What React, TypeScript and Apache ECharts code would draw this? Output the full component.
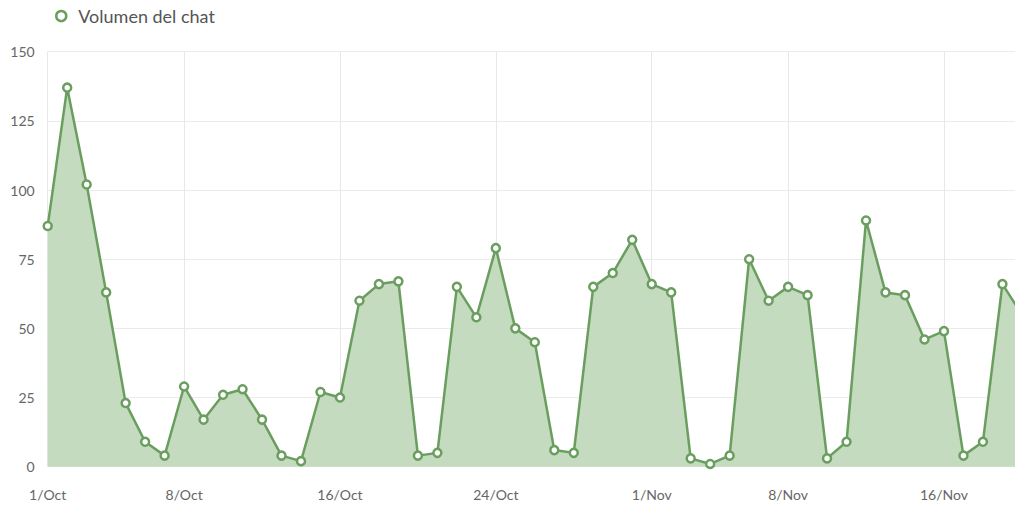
import React, { useEffect, useRef } from "react";
import * as echarts from "echarts";

const categories = [
  "1/Oct","2/Oct","3/Oct","4/Oct","5/Oct","6/Oct","7/Oct","8/Oct","9/Oct","10/Oct",
  "11/Oct","12/Oct","13/Oct","14/Oct","15/Oct","16/Oct","17/Oct","18/Oct","19/Oct","20/Oct",
  "21/Oct","22/Oct","23/Oct","24/Oct","25/Oct","26/Oct","27/Oct","28/Oct","29/Oct","30/Oct",
  "31/Oct","1/Nov","2/Nov","3/Nov","4/Nov","5/Nov","6/Nov","7/Nov","8/Nov","9/Nov",
  "10/Nov","11/Nov","12/Nov","13/Nov","14/Nov","15/Nov","16/Nov","17/Nov","18/Nov","19/Nov",
  "20/Nov",
];

const chatVolume = [
  87, 137, 102, 63, 23, 9, 4, 29, 17, 26,
  28, 17, 4, 2, 27, 25, 60, 66, 67, 4,
  5, 65, 54, 79, 50, 45, 6, 5, 65, 70,
  82, 66, 63, 3, 1, 4, 75, 60, 65, 62,
  3, 9, 89, 63, 62, 46, 49, 4, 9, 66,
  55,
];

const tickLabels = ["1/Oct", "8/Oct", "16/Oct", "24/Oct", "1/Nov", "8/Nov", "16/Nov"];

const seriesName = "Volumen del chat";

const GREEN = "#6a9e5f";

export default function App() {
  const ref = useRef<HTMLDivElement>(null);

  useEffect(() => {
    if (!ref.current) return;
    const chart = echarts.init(ref.current, undefined, { renderer: "svg" });
    const showAt = (_i: number, v: string) => tickLabels.includes(v);
    chart.setOption({
      animation: false,
      textStyle: { fontFamily: "Lato" },
      legend: {
        left: 50,
        top: 2,
        itemWidth: 10,
        itemHeight: 10,
        textStyle: { fontFamily: "Lato", fontSize: 18, color: "#555", padding: [0, 0, 0, 7] },
        data: [
          {
            name: seriesName,
            icon: "circle",
            itemStyle: { color: "#fff", borderColor: GREEN, borderWidth: 2.5 },
          },
        ],
      },
      grid: { left: 47.7, right: 18.1, top: 51.7, bottom: 43.3, containLabel: false },
      xAxis: {
        type: "category",
        data: categories,
        boundaryGap: false,
        axisLine: { show: false },
        axisTick: { show: false, interval: showAt },
        axisLabel: {
          interval: showAt,
          color: "#666",
          fontFamily: "Lato",
          fontSize: 14,
          margin: 21,
        },
        splitLine: { show: true, interval: showAt, lineStyle: { color: "#e8e8e8", width: 1 } },
      },
      yAxis: {
        type: "value",
        min: 0,
        max: 150,
        interval: 25,
        axisLine: { show: false },
        axisTick: { show: false },
        axisLabel: { color: "#666", fontFamily: "Lato", fontSize: 14, margin: 13 },
        splitLine: { lineStyle: { color: "#ebebeb", width: 1 } },
      },
      series: [
        {
          name: seriesName,
          type: "line",
          data: chatVolume,
          symbol: "circle",
          symbolSize: 8,
          showAllSymbol: true,
          clip: true,
          lineStyle: { color: GREEN, width: 2.5 },
          itemStyle: { color: "#fff", borderColor: GREEN, borderWidth: 2.5 },
          areaStyle: { color: "#c4dbbf", opacity: 1 },
        },
      ],
    });
    return () => chart.dispose();
  }, []);

  return (
    <div
      style={{
        position: "fixed",
        left: 0,
        top: 0,
        width: 1015,
        height: 510,
        overflow: "hidden",
        background: "#fff",
      }}
    >
      <div ref={ref} style={{ width: 1040, height: 510 }} />
    </div>
  );
}
